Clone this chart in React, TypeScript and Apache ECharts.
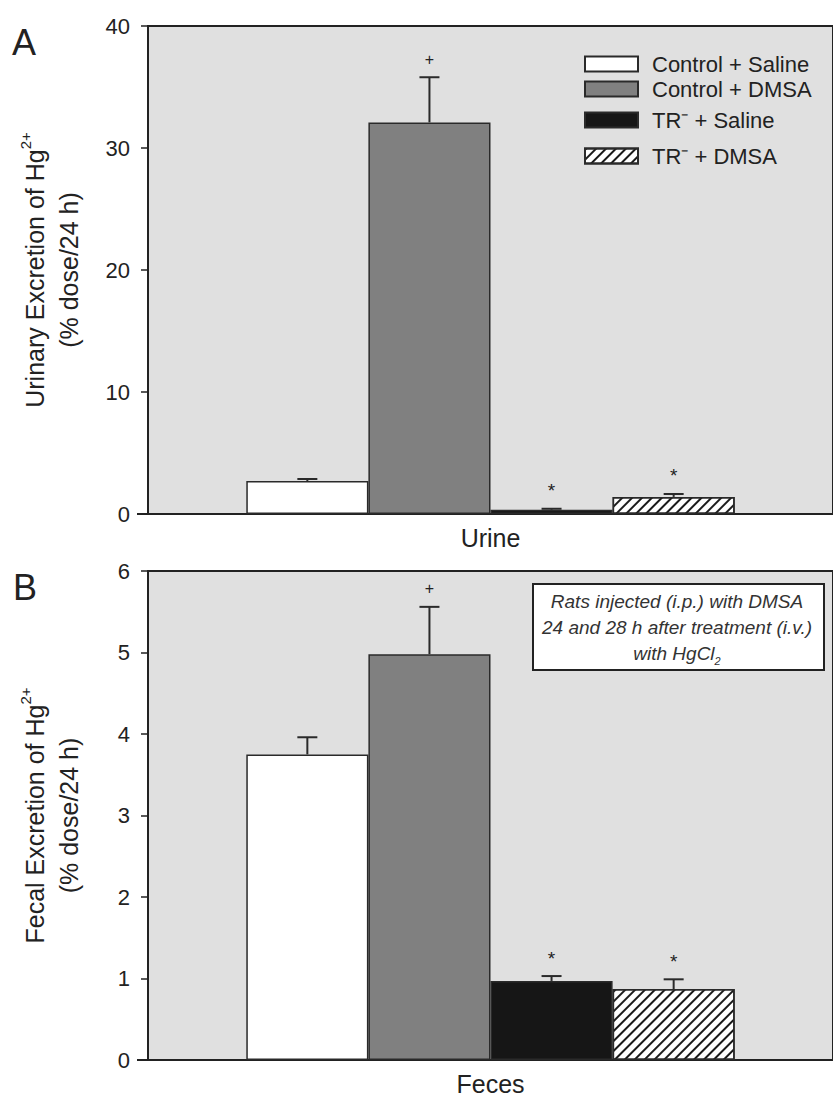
import React, { useEffect, useRef } from "react";
import * as echarts from "echarts";

const FONT = '"Liberation Sans", Arial, Helvetica, sans-serif';
const INK = "#222";

// ---- data ----
const groups = ["Control + Saline", "Control + DMSA", "TR⁻ + Saline", "TR⁻ + DMSA"];
const urineCategory = ["Urine"];
const fecesCategory = ["Feces"];
const urineMeans = [2.7, 32.1, 0.35, 1.4];
const urineErrors = [0.17, 3.7, 0.08, 0.24];
const urineMarks = ["", "+", "*", "*"];
const fecesMeans = [3.75, 4.98, 0.97, 0.87];
const fecesErrors = [0.21, 0.58, 0.06, 0.12];
const fecesMarks = ["", "+", "*", "*"];
const urineAxis = { min: 0, max: 40, interval: 10 };
const fecesAxis = { min: 0, max: 6, interval: 1 };

const CAT_GAP = 0.287;

const groupStyles = [
  { color: "#ffffff" },
  { color: "#808080" },
  { color: "#161616" },
  {
    color: "#ffffff",
    decal: {
      symbol: "rect",
      symbolSize: 1,
      color: "#1a1a1a",
      dashArrayX: [1, 0],
      dashArrayY: [2, 5],
      rotation: -Math.PI / 4,
    },
  },
];

function barSeries(gi: number, means: number[]) {
  return groups.map((g, i) => ({
    type: "bar",
    name: g,
    xAxisIndex: gi,
    yAxisIndex: gi,
    data: [means[i]],
    barGap: "0%",
    barCategoryGap: CAT_GAP * 100 + "%",
    itemStyle: { ...groupStyles[i], borderColor: "#2a2a2a", borderWidth: 1.5 },
    emphasis: { disabled: true },
    silent: true,
  }));
}

function errorSeries(gi: number, means: number[], errs: number[], marks: string[]) {
  return {
    type: "custom",
    xAxisIndex: gi,
    yAxisIndex: gi,
    z: 5,
    silent: true,
    encode: { x: 0, y: 1 },
    data: means.map((m, i) => [0, m, errs[i], i]),
    renderItem: (params: any, api: any) => {
      const idx = api.value(3);
      const mean = api.value(1);
      const err = api.value(2);
      const base = api.coord([0, mean]);
      const top = api.coord([0, mean + err]);
      const band = api.size([1, 0])[0];
      const bw = (band * (1 - CAT_GAP)) / 4;
      const x = base[0] + (idx - 1.5) * bw;
      const children: any[] = [
        { type: "line", shape: { x1: x, y1: base[1], x2: x, y2: top[1] }, style: { stroke: "#2a2a2a", lineWidth: 2 } },
        { type: "line", shape: { x1: x - 10, y1: top[1], x2: x + 10, y2: top[1] }, style: { stroke: "#2a2a2a", lineWidth: 2 } },
      ];
      const mk = marks[idx];
      if (mk) {
        children.push({
          type: "text",
          style: {
            text: mk,
            x,
            y: top[1] - 18,
            align: "center",
            verticalAlign: "middle",
            fill: INK,
            fontSize: mk === "+" ? 16 : 19,
            fontFamily: FONT,
          },
        });
      }
      return { type: "group", children };
    },
  };
}

function yAxisFor(gi: number, ax: any, title: string) {
  return {
    type: "value",
    gridIndex: gi,
    min: ax.min,
    max: ax.max,
    interval: ax.interval,
    axisLine: { show: true, lineStyle: { color: INK, width: 2 } },
    axisTick: { show: true, length: 7, lineStyle: { color: INK, width: 1.5 } },
    splitLine: { show: false },
    axisLabel: { fontSize: 22, color: INK, fontFamily: FONT, margin: 18 },
    name: `{t|${title} of Hg}{sup|2+}\n{t|(% dose/24 h)}`,
    nameLocation: "middle",
    nameRotate: 90,
    nameGap: 62,
    nameTextStyle: {
      fontFamily: FONT,
      color: INK,
      rich: {
        t: { fontSize: 25, fontFamily: FONT, color: INK, lineHeight: 34 },
        sup: { fontSize: 15, fontFamily: FONT, color: INK, verticalAlign: "top", lineHeight: 34 },
      },
    },
  };
}

function xAxisFor(gi: number, cats: string[]) {
  return {
    type: "category",
    gridIndex: gi,
    data: cats,
    axisLine: { show: true, lineStyle: { color: INK, width: 2 } },
    axisTick: { show: false },
    axisLabel: { fontSize: 25, color: INK, fontFamily: FONT, margin: 11 },
  };
}

const legendRows = [56, 81, 112, 148];

export default function App() {
  const ref = useRef<HTMLDivElement>(null);
  useEffect(() => {
    if (!ref.current) return;
    const chart = echarts.init(ref.current, null, { renderer: "svg" });
    const gridCommon = {
      left: 148,
      right: -8,
      show: true,
      backgroundColor: "#e0e0e0",
      borderColor: INK,
      borderWidth: 2,
    };
    const option: any = {
      animation: false,
      grid: [
        { ...gridCommon, top: 26, height: 488 },
        { ...gridCommon, top: 571, height: 489 },
      ],
      xAxis: [xAxisFor(0, urineCategory), xAxisFor(1, fecesCategory)],
      yAxis: [yAxisFor(0, urineAxis, "Urinary Excretion"), yAxisFor(1, fecesAxis, "Fecal Excretion")],
      legend: groups.map((g, i) => ({
        data: [g],
        left: 579,
        top: legendRows[i] - 8,
        icon: "rect",
        itemWidth: 53,
        itemHeight: 15,
        selectedMode: false,
        textStyle: { fontSize: 22, color: INK, fontFamily: FONT, padding: [0, 0, 0, 9] },
      })),
      series: [
        ...barSeries(0, urineMeans),
        ...barSeries(1, fecesMeans),
        errorSeries(0, urineMeans, urineErrors, urineMarks),
        errorSeries(1, fecesMeans, fecesErrors, fecesMarks),
      ],
      graphic: [
        { type: "line", shape: { x1: 137, y1: 514, x2: 148, y2: 514 }, style: { stroke: INK, lineWidth: 2 } },
        { type: "line", shape: { x1: 137, y1: 1060, x2: 148, y2: 1060 }, style: { stroke: INK, lineWidth: 2 } },
        { type: "text", left: 12, top: 24, style: { text: "A", fontSize: 36, fontFamily: FONT, fill: INK } },
        { type: "text", left: 13, top: 569, style: { text: "B", fontSize: 36, fontFamily: FONT, fill: INK } },
        {
          type: "rect",
          left: 532,
          top: 583,
          shape: { width: 291, height: 86 },
          style: { fill: "#ffffff", stroke: INK, lineWidth: 2 },
          z: 10,
        },
        {
          type: "text",
          x: 677,
          y: 588,
          z: 11,
          style: {
            text: "{i|Rats injected (i.p.) with DMSA}\n{i|24 and 28 h after treatment (i.v.)}\n{i|with HgCl}{sub|2}",
            align: "center",
            fill: "#333",
            fontFamily: FONT,
            rich: {
              i: { fontSize: 19, fontStyle: "italic", fontFamily: FONT, fill: "#333", lineHeight: 26 },
              sub: { fontSize: 11, fontStyle: "italic", fontFamily: FONT, fill: "#333", lineHeight: 26, verticalAlign: "bottom", padding: [10, 0, 0, 0] },
            },
          },
        },
      ],
    };
    chart.setOption(option);
    return () => chart.dispose();
  }, []);
  return <div ref={ref} style={{ position: "absolute", left: 0, top: 0, width: 833, height: 1096 }} />;
}
